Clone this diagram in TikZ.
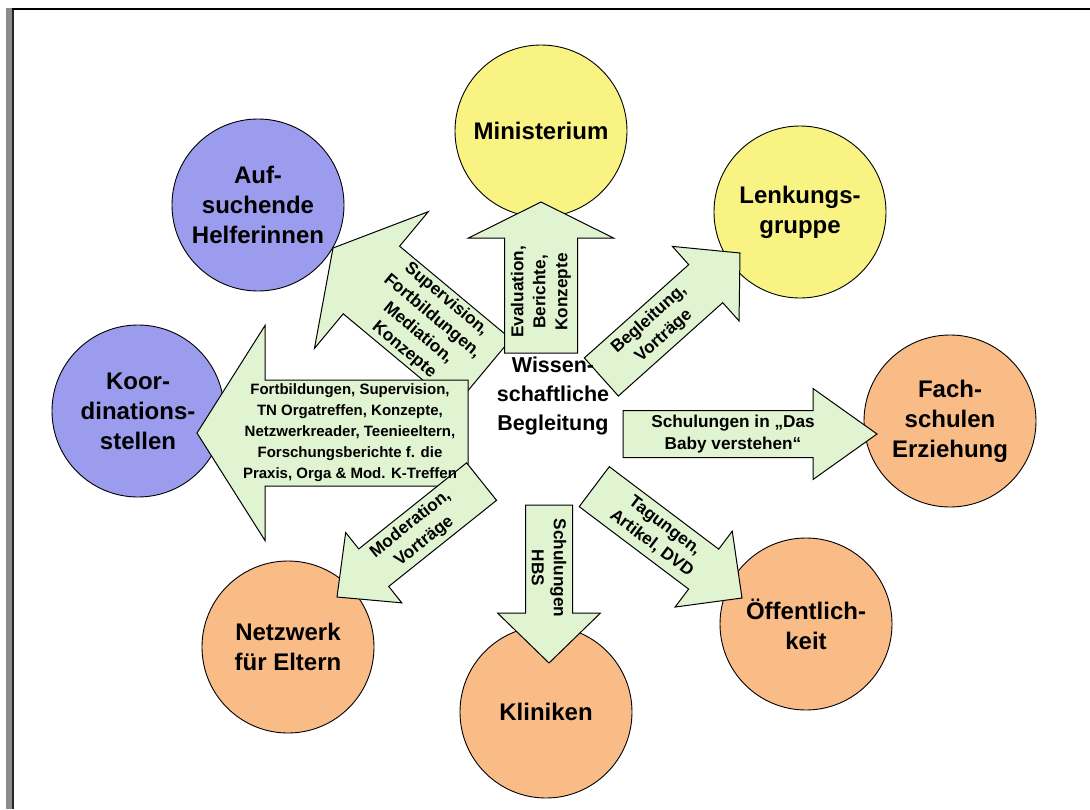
\documentclass[tikz,border=0pt]{standalone}
\usepackage{fontspec}
\setmainfont{Liberation Sans}
\definecolor{purp}{HTML}{9C9CEE}
\definecolor{yel}{HTML}{F8F383}
\definecolor{ora}{HTML}{F9BC86}
\definecolor{agreen}{HTML}{E0F4D2}
\definecolor{bargray}{HTML}{8C8C8C}
\tikzset{
 circ/.style={circle, draw=black, line width=0.9pt, minimum size=172pt, inner sep=0pt, align=center, font=\fontsize{24}{30}\selectfont\bfseries},
 arrowbox/.style={draw=black, line width=1pt, fill=agreen, line join=miter},
 albl/.style={align=center, font=\fontsize{17.2}{22}\selectfont\bfseries, inner sep=0pt},
}
\newcommand{\blockarrow}[8]{%
  \begin{scope}[shift={(#2)},rotate=#3]
    \draw[arrowbox] (-#4,-#5/2) -- (-#7,-#5/2) -- (-#7,-#6/2) -- (0,0) -- (-#7,#6/2) -- (-#7,#5/2) -- (-#4,#5/2) -- cycle;
    \coordinate (#1) at (-#8,0);
  \end{scope}}
\begin{document}
\begin{tikzpicture}[x=1pt,y=1pt]
\useasboundingbox (0,0) rectangle (1090,-809);
\fill[white] (0,0) rectangle (1090,-809);
% frame
\fill[bargray] (6,-8) rectangle (12,-809);
\fill[black!85] (12,-8) rectangle (14,-809);
\fill[black] (12,-8) rectangle (1090,-10);
% circles
\node[circ, fill=yel] (min) at (541,-131) {Ministerium};
\node[circ, fill=purp] (auf) at (258,-205) {Auf-\\suchende\\Helferinnen};
\node[circ, fill=yel] (lenk) at (800,-212) {Lenkungs-\\gruppe};
\node[circ, fill=purp] (koord) at (138,-411) {Koor-\\dinations-\\stellen};
\node[circ, fill=ora] (fach) at (950,-421) {Fach-\\schulen\\Erziehung};
\node[circ, fill=ora] (netz) at (288,-647) {Netzwerk\\für Eltern};
\node[circ, fill=ora] (klin) at (546,-712) {Kliniken};
\node[circ, fill=ora] (oeff) at (806,-624) {Öffentlich-\\keit};
% block arrows
\blockarrow{a2}{333,-248}{140.2}{195}{88}{178}{50}{120}
\blockarrow{a1}{541,-202}{90}{151}{73}{145}{36}{90}
\blockarrow{a3}{197,-433}{180}{271}{106}{215}{68}{153}
\blockarrow{a6}{337,-597}{218.6}{185}{48}{90}{47}{103}
\blockarrow{a4}{740,-253}{41.8}{186}{51}{100}{46}{112}
\blockarrow{a5}{877,-434}{0}{254}{47}{91}{64}{144}
\blockarrow{a7}{549,-663}{270}{158}{47}{103}{50}{95}
\blockarrow{a8}{742,-598}{-37}{185}{50}{95}{48}{105}
% arrow labels
\node[albl, rotate=90] (t1) at (a1) {Evaluation,\\Berichte,\\Konzepte};
\node[albl, rotate=-39.8] (t2) at (a2) {Supervision,\\Fortbildungen,\\Mediation,\\Konzepte};
\node[albl, font=\fontsize{15}{21}\selectfont\bfseries] (t3) at (a3) {Fortbildungen, Supervision,\\TN Orgatreffen, Konzepte,\\Netzwerkreader, Teenieeltern,\\Forschungsberichte f. die\\Praxis, Orga \& Mod. K-Treffen};
\node[albl, rotate=41.8] (t4) at (a4) {Begleitung,\\Vorträge};
\node[albl] (t5) at (a5) {Schulungen in „Das\\Baby verstehen“};
\node[albl, rotate=38.6] (t6) at (a6) {Moderation,\\Vorträge};
\node[albl, rotate=-90] (t7) at (a7) {Schulungen\\HBS};
\node[albl, rotate=-37] (t8) at (a8) {Tagungen,\\Artikel, DVD};
% centre
\node[font=\fontsize{21.5}{29}\selectfont\bfseries, align=center] (wb) at (553,-396) {Wissen-\\schaftliche\\Begleitung};
\end{tikzpicture}
\end{document}
